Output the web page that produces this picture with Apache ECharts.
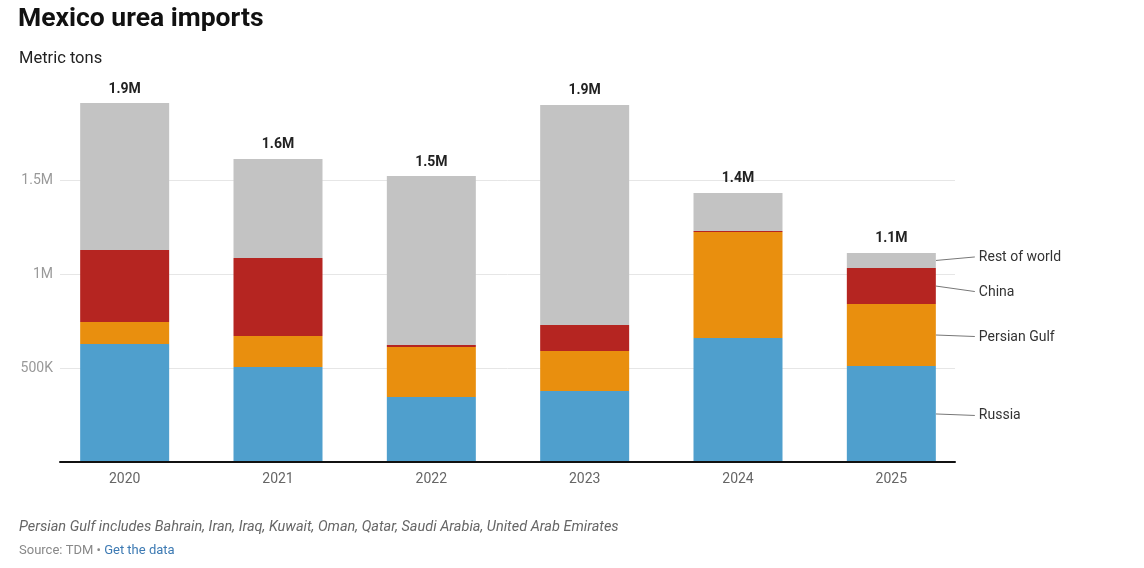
<!DOCTYPE html>
<html><head><meta charset="utf-8">
<script src="https://cdn.jsdelivr.net/npm/echarts@6/dist/echarts.min.js"></script>
<style>html,body{margin:0;padding:0;background:#fff}#c{width:1144px;height:568px}</style>
</head><body><div id="c"></div>
<script>
const years = ['2020','2021','2022','2023','2024','2025'];
const russia = [628000, 505000, 346000, 378000, 660000, 511000];
const persianGulf = [117000, 165000, 266000, 212000, 563000, 329000];
const china = [383000, 415000, 10000, 139000, 6000, 192000];
const restOfWorld = [781000, 527000, 899000, 1170000, 202000, 80000];
const seriesNames = ['Russia', 'Persian Gulf', 'China', 'Rest of world'];
const yTicks = [500000, 1000000, 1500000];

const totals = years.map((_, i) => russia[i] + persianGulf[i] + china[i] + restOfWorld[i]);
const FONT = 'Roboto, "Noto Sans", sans-serif';
const fmtY = v => v >= 1000000 ? (v / 1000000) + 'M' : (v / 1000) + 'K';
const colors = ['#4f9fcd', '#e98f0e', '#b52521', '#c3c3c3'];
const stacks = [russia, persianGulf, china, restOfWorld];
const labelDy = [2, 2, 6, -3];

const series = stacks.map((data, k) => ({
  name: seriesNames[k], type: 'bar', stack: 's', data,
  barWidth: 89, xAxisIndex: 0, yAxisIndex: 0,
  itemStyle: { color: colors[k] },
  emphasis: { disabled: true }, animation: false
}));
// total labels above bars
series.push({
  type: 'bar', stack: 's', data: years.map(() => 0), barWidth: 89,
  xAxisIndex: 0, yAxisIndex: 0, silent: true, animation: false,
  label: {
    show: true, position: 'top', distance: 7,
    formatter: p => (totals[p.dataIndex] / 1000000).toFixed(1) + 'M',
    color: '#222', fontWeight: 'bold', fontSize: 14, fontFamily: FONT
  }
});
// direct labels with leader lines at the last bar
const last = years.length - 1;
let cum = 0;
const labelData = stacks.map((data, k) => {
  const mid = cum + data[last] / 2;
  cum += data[last];
  return [last, mid, k];
});
series.push({
  type: 'custom', xAxisIndex: 0, yAxisIndex: 0, silent: true, animation: false,
  data: labelData,
  renderItem: (params, api) => {
    const p = api.coord([api.value(0), api.value(1)]);
    const k = api.value(2);
    const x0 = p[0] + 44.5, y0 = p[1], y1 = p[1] + labelDy[k];
    return {
      type: 'group', children: [
        { type: 'line', shape: { x1: x0, y1: y0, x2: x0 + 39, y2: y1 - 0.5 },
          style: { stroke: '#777', lineWidth: 1 } },
        { type: 'text', x: x0 + 43, y: y1,
          style: { text: seriesNames[k], fill: '#333', fontSize: 14, fontFamily: FONT,
            verticalAlign: 'middle', align: 'left' } }
      ]
    };
  }
});
series.push({ type: 'bar', data: [], xAxisIndex: 1, yAxisIndex: 1 });

const chart = echarts.init(document.getElementById('c'), null, { renderer: 'canvas' });
chart.setOption({
  animation: false,
  textStyle: { fontFamily: FONT },
  title: [
    { text: 'Mexico urea imports', left: 18, top: 6, padding: 0,
      textStyle: { fontSize: 26.5, fontWeight: 'bold', color: '#111', fontFamily: FONT } },
    { text: 'Metric tons', left: 19, top: 50, padding: 0,
      textStyle: { fontSize: 16.5, fontWeight: 'normal', color: '#222', fontFamily: FONT } },
    { text: 'Persian Gulf includes Bahrain, Iran, Iraq, Kuwait, Oman, Qatar, Saudi Arabia, United Arab Emirates',
      left: 19, top: 520, padding: 0,
      textStyle: { fontSize: 14.5, fontStyle: 'italic', fontWeight: 'normal', color: '#666', fontFamily: FONT } },
    { text: '{a|Source: TDM • }{b|Get the data}', left: 19, top: 544, padding: 0,
      textStyle: { fontWeight: 'normal', rich: {
        a: { fontSize: 13, color: '#888', fontWeight: 'normal', fontFamily: FONT },
        b: { fontSize: 13, color: '#3d7ab3', fontWeight: 'normal', fontFamily: FONT }
      } } }
  ],
  grid: [
    { left: 48, right: 176, top: 86, bottom: 106 },
    { left: 60, right: 189, top: 86, bottom: 106 }
  ],
  xAxis: [
    { type: 'category', data: years, gridIndex: 0,
      axisLine: { show: false }, axisTick: { show: false },
      axisLabel: { margin: 10, color: '#666', fontSize: 14, fontFamily: FONT } },
    { type: 'category', data: years, gridIndex: 1, z: 5,
      axisLine: { show: true, lineStyle: { color: '#111', width: 2 } },
      axisTick: { show: false }, axisLabel: { show: false } }
  ],
  yAxis: [
    { type: 'value', gridIndex: 0, min: 0, max: 2000000, interval: 500000,
      show: false, splitLine: { show: false } },
    { type: 'value', gridIndex: 1, min: 0, max: 2000000, interval: 500000, z: 0,
      axisLine: { show: false }, axisTick: { show: false },
      axisLabel: { color: '#999', fontSize: 14, fontFamily: FONT, margin: 7,
        showMinLabel: false, showMaxLabel: false,
        formatter: v => yTicks.includes(v) ? fmtY(v) : '' },
      splitLine: { show: true, showMinLine: false, showMaxLine: false,
        lineStyle: { color: '#e6e6e6', width: 1 } } }
  ],
  series
});
</script></body></html>
